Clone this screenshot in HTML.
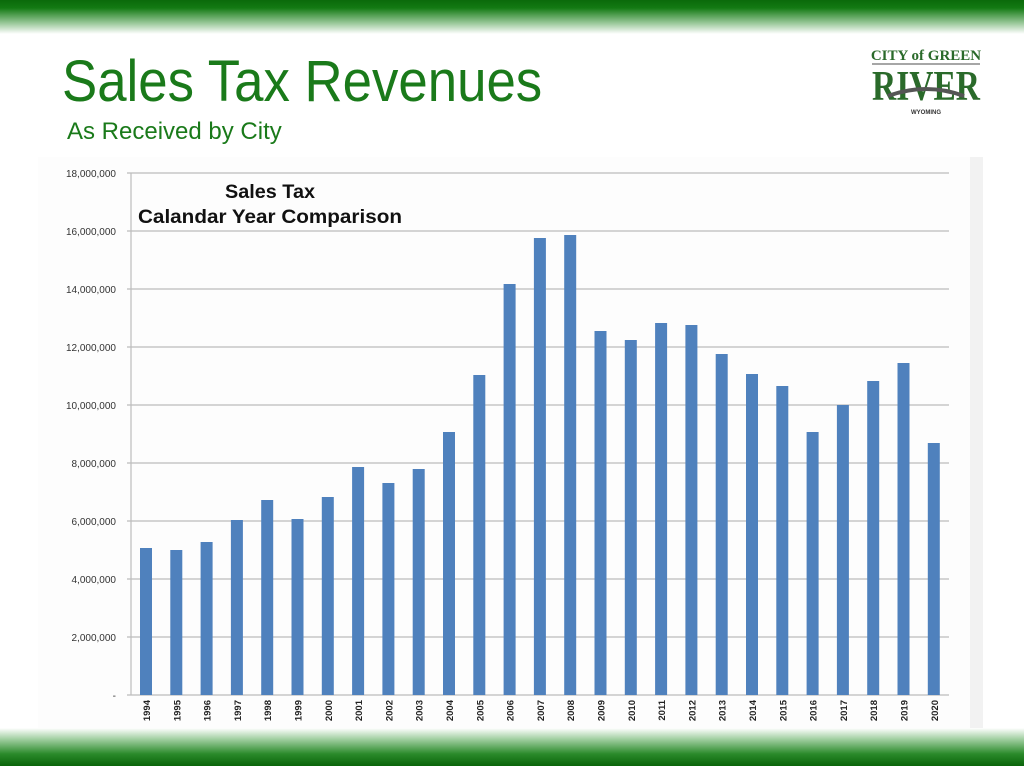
<!DOCTYPE html>
<html><head><meta charset="utf-8"><style>
html,body{margin:0;padding:0;background:#fff;}
body{width:1024px;height:766px;position:relative;overflow:hidden;font-family:"Liberation Sans",sans-serif;}
.top{position:absolute;left:0;top:0;width:1024px;height:34px;background:linear-gradient(#0a6a0a 0px,#137a13 8px,#8fc28f 22px,#fff 34px);}
.bot{position:absolute;left:0;top:728px;width:1024px;height:38px;background:linear-gradient(#fff 0px,#9acb9a 12px,#2a8a2a 26px,#0a640a 38px);}
.t1{position:absolute;left:62px;top:48px;font-size:58px;color:#1a7a1a;transform:scaleX(0.91);transform-origin:0 0;white-space:nowrap;}
.t2{position:absolute;left:67px;top:118px;font-size:24px;color:#1a7a1a;transform:scaleX(1.0);transform-origin:0 0;white-space:nowrap;}
</style></head><body>
<div class="top"></div>
<div class="t1">Sales Tax Revenues</div>
<div class="t2">As Received by City</div>
<svg style="position:absolute;left:868px;top:44px" width="116" height="76">
<text x="58" y="16" text-anchor="middle" font-family="Liberation Serif" font-weight="bold" font-size="15" fill="#2a6a2a">CITY of GREEN</text>
<line x1="4" y1="20" x2="112" y2="20" stroke="#888" stroke-width="1.5"/>
<text x="58" y="56" text-anchor="middle" font-family="Liberation Serif" font-weight="bold" font-size="42" fill="#2a6a2a" textLength="108" lengthAdjust="spacingAndGlyphs">RIVER</text>
<path d="M20 52 Q58 38 96 52" stroke="#555" stroke-width="4" fill="none"/>
<text x="58" y="70" text-anchor="middle" font-family="Liberation Sans" font-weight="bold" font-size="6" fill="#333">WYOMING</text>
</svg>
<svg style="position:absolute;left:0;top:0" width="1024" height="766">
<rect x="38" y="157" width="932" height="574" fill="#fdfdfd"/>
<rect x="970" y="157" width="13" height="574" fill="#f2f2f2"/>
<g stroke="#bdbdbd" stroke-width="1.2">
<line x1="127" y1="173" x2="949" y2="173"/><line x1="127" y1="231" x2="949" y2="231"/><line x1="127" y1="289" x2="949" y2="289"/><line x1="127" y1="347" x2="949" y2="347"/><line x1="127" y1="405" x2="949" y2="405"/><line x1="127" y1="463" x2="949" y2="463"/><line x1="127" y1="521" x2="949" y2="521"/><line x1="127" y1="579" x2="949" y2="579"/><line x1="127" y1="637" x2="949" y2="637"/>
<line x1="131" y1="173" x2="131" y2="695"/><line x1="127" y1="695" x2="949" y2="695"/>
</g>
<g font-size="10" fill="#333" text-anchor="end">
<text x="116" y="177">18,000,000</text><text x="116" y="235">16,000,000</text><text x="116" y="293">14,000,000</text><text x="116" y="351">12,000,000</text><text x="116" y="409">10,000,000</text><text x="116" y="467">8,000,000</text><text x="116" y="525">6,000,000</text><text x="116" y="583">4,000,000</text><text x="116" y="641">2,000,000</text><text x="116" y="699">-</text>
</g>
<text x="225" y="198" font-size="19" font-weight="bold" fill="#111" textLength="90" lengthAdjust="spacingAndGlyphs">Sales Tax</text>
<text x="138" y="223" font-size="19" font-weight="bold" fill="#111" textLength="264" lengthAdjust="spacingAndGlyphs">Calandar Year Comparison</text>
<g fill="#4f81bd">
<rect x="140" y="548" width="12" height="147"/>
<rect x="170.3" y="550" width="12" height="145"/>
<rect x="200.6" y="542" width="12" height="153"/>
<rect x="230.9" y="520" width="12" height="175"/>
<rect x="261.2" y="500" width="12" height="195"/>
<rect x="291.5" y="519" width="12" height="176"/>
<rect x="321.8" y="497" width="12" height="198"/>
<rect x="352.1" y="467" width="12" height="228"/>
<rect x="382.4" y="483" width="12" height="212"/>
<rect x="412.7" y="469" width="12" height="226"/>
<rect x="443" y="432" width="12" height="263"/>
<rect x="473.3" y="375" width="12" height="320"/>
<rect x="503.6" y="284" width="12" height="411"/>
<rect x="533.9" y="238" width="12" height="457"/>
<rect x="564.2" y="235" width="12" height="460"/>
<rect x="594.5" y="331" width="12" height="364"/>
<rect x="624.8" y="340" width="12" height="355"/>
<rect x="655.1" y="323" width="12" height="372"/>
<rect x="685.4" y="325" width="12" height="370"/>
<rect x="715.7" y="354" width="12" height="341"/>
<rect x="746" y="374" width="12" height="321"/>
<rect x="776.3" y="386" width="12" height="309"/>
<rect x="806.6" y="432" width="12" height="263"/>
<rect x="836.9" y="405" width="12" height="290"/>
<rect x="867.2" y="381" width="12" height="314"/>
<rect x="897.5" y="363" width="12" height="332"/>
<rect x="927.8" y="443" width="12" height="252"/>
</g>
<g font-size="9.5" font-weight="bold" fill="#222" text-anchor="end">
<text transform="translate(150,700) rotate(-90)">1994</text>
<text transform="translate(180.3,700) rotate(-90)">1995</text>
<text transform="translate(210.6,700) rotate(-90)">1996</text>
<text transform="translate(240.9,700) rotate(-90)">1997</text>
<text transform="translate(271.2,700) rotate(-90)">1998</text>
<text transform="translate(301.5,700) rotate(-90)">1999</text>
<text transform="translate(331.8,700) rotate(-90)">2000</text>
<text transform="translate(362.1,700) rotate(-90)">2001</text>
<text transform="translate(392.4,700) rotate(-90)">2002</text>
<text transform="translate(422.7,700) rotate(-90)">2003</text>
<text transform="translate(453,700) rotate(-90)">2004</text>
<text transform="translate(483.3,700) rotate(-90)">2005</text>
<text transform="translate(513.6,700) rotate(-90)">2006</text>
<text transform="translate(543.9,700) rotate(-90)">2007</text>
<text transform="translate(574.2,700) rotate(-90)">2008</text>
<text transform="translate(604.5,700) rotate(-90)">2009</text>
<text transform="translate(634.8,700) rotate(-90)">2010</text>
<text transform="translate(665.1,700) rotate(-90)">2011</text>
<text transform="translate(695.4,700) rotate(-90)">2012</text>
<text transform="translate(725.7,700) rotate(-90)">2013</text>
<text transform="translate(756,700) rotate(-90)">2014</text>
<text transform="translate(786.3,700) rotate(-90)">2015</text>
<text transform="translate(816.6,700) rotate(-90)">2016</text>
<text transform="translate(846.9,700) rotate(-90)">2017</text>
<text transform="translate(877.2,700) rotate(-90)">2018</text>
<text transform="translate(907.5,700) rotate(-90)">2019</text>
<text transform="translate(937.8,700) rotate(-90)">2020</text>
</g>
</svg>
<div class="bot"></div>
</body></html>
